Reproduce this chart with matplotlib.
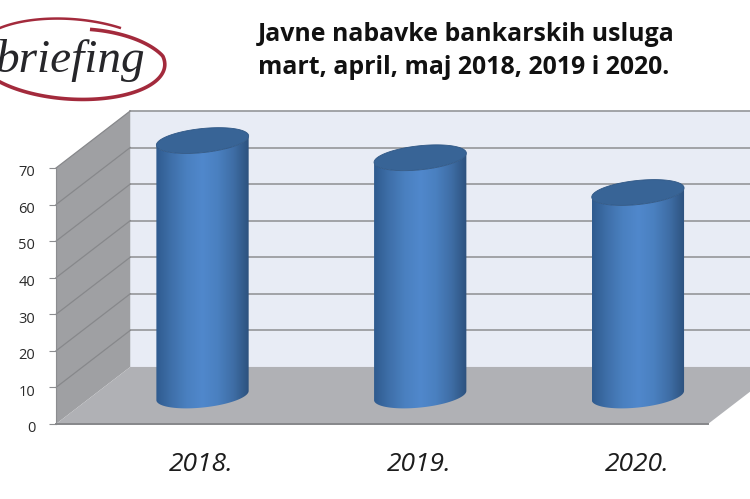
import numpy as np
import matplotlib
matplotlib.use('Agg')
import matplotlib.pyplot as plt
from matplotlib.colors import LinearSegmentedColormap
from matplotlib.patches import Polygon, PathPatch
from matplotlib.path import Path
from matplotlib.transforms import ScaledTranslation

# data
years = ['2018.', '2019.', '2020.']
values = [69.7, 65, 55.5]
y_ticks = [0, 10, 20, 30, 40, 50, 60, 70]
title_lines = ['Javne nabavke bankarskih usluga', 'mart, april, maj 2018, 2019 i 2020.']

# 3d look, in data units
DEPTH_X = 0.341
DEPTH_Y = 15.6
XMIN, XMAX = -0.668, 2.327
YMAX = 70
HALF_W = 0.212
ELL_H = 3.3
ELL_TILT = 1.25

fig = plt.figure(figsize=(7.5, 4.99), dpi=100)
ax = fig.add_axes([56 / 750, 75 / 499, 652 / 750, 256 / 499])
ax.set_xlim(XMIN, XMAX)
ax.set_ylim(0, YMAX)
ax.patch.set_visible(False)

# back wall, side wall and floor
ax.add_patch(Polygon([[XMIN + DEPTH_X, DEPTH_Y], [XMAX + DEPTH_X, DEPTH_Y],
                      [XMAX + DEPTH_X, YMAX + DEPTH_Y], [XMIN + DEPTH_X, YMAX + DEPTH_Y]],
                     fc='#e8ecf5', ec='none', clip_on=False, zorder=1))
ax.add_patch(Polygon([[XMIN, 0], [XMIN + DEPTH_X, DEPTH_Y],
                      [XMIN + DEPTH_X, YMAX + DEPTH_Y], [XMIN, YMAX]],
                     fc='#9fa0a3', ec='none', clip_on=False, zorder=1))
ax.add_patch(Polygon([[XMIN, 0], [XMAX, 0], [XMAX + DEPTH_X, DEPTH_Y], [XMIN + DEPTH_X, DEPTH_Y]],
                     fc='#b0b1b5', ec='none', clip_on=False, zorder=2))

for tick in y_ticks[1:]:
    ax.plot([XMIN + DEPTH_X, XMAX + DEPTH_X], [tick + DEPTH_Y, tick + DEPTH_Y], color='#9b9da0',
            lw=1.3, clip_on=False, zorder=1.5)
    ax.plot([XMIN, XMIN + DEPTH_X], [tick, tick + DEPTH_Y], color='#87888b', lw=0.9,
            clip_on=False, zorder=1.5)

# cylinders
body_cmap = LinearSegmentedColormap.from_list(
    'body', ['#2f5b8f', '#3f70aa', '#4a80c0', '#5088cc', '#4a80c0', '#3f6ea6', '#2d527e'])
t = np.linspace(0, 2 * np.pi, 120)
low = t[t >= np.pi]
for i, v in enumerate(values):
    cx = i + 0.005
    base = DEPTH_Y / 2
    top = base + v
    ex = cx + HALF_W * np.cos(t)
    ey = ELL_H * np.sin(t) + ELL_TILT * np.cos(t)

    # side = lower half of the bottom ellipse joined to lower half of the top one
    lx = cx + HALF_W * np.cos(low)
    ly = ELL_H * np.sin(low) + ELL_TILT * np.cos(low)
    verts = np.vstack([np.column_stack([lx, ly + base]),
                       np.column_stack([lx[::-1], ly[::-1] + top])])
    verts = np.vstack([verts, verts[0]])
    codes = [Path.MOVETO] + [Path.LINETO] * (len(verts) - 2) + [Path.CLOSEPOLY]
    clip = PathPatch(Path(verts, codes), fc='none', ec='none', transform=ax.transData)
    ax.add_patch(clip)
    clip.set_clip_on(False)
    im = ax.imshow(np.linspace(0, 1, 200).reshape(1, -1), cmap=body_cmap, aspect='auto',
                   extent=[cx - HALF_W, cx + HALF_W, base - ELL_H - 2, top + ELL_H + 2],
                   zorder=3)
    im.set_clip_box(fig.bbox)
    im.set_clip_path(clip)
    ax.fill(ex, ey + top, color='#386496', ec='#2f5785', lw=0.6, clip_on=False, zorder=4)

ax.set_xlim(XMIN, XMAX)
ax.set_ylim(0, YMAX)

for side in ['top', 'right']:
    ax.spines[side].set_visible(False)
ax.spines['left'].set_color('#8c8d90')
ax.spines['bottom'].set_color('#86878a')
ax.spines['bottom'].set_linewidth(1.4)
ax.spines['left'].set_zorder(6)
ax.spines['bottom'].set_zorder(6)

ax.set_yticks(y_ticks)
ax.tick_params(axis='y', length=5, color='#8c8d90', pad=10, labelsize=10.5, labelcolor='#2a2a2a')
ax.set_xticks(range(len(years)))
ax.set_xticklabels(years, fontsize=19, fontstyle='italic', color='#1c1c1c')
ax.tick_params(axis='x', length=0, pad=20)
nudge = ScaledTranslation(0, -2 / 72, fig.dpi_scale_trans)
for lab in ax.get_yticklabels():
    lab.set_family('Open Sans')
    lab.set_transform(lab.get_transform() + nudge)
for lab in ax.get_xticklabels():
    lab.set_family('Open Sans')

# title + logo in pixel coordinates
over = fig.add_axes([0, 0, 1, 1])
over.set_xlim(0, 750)
over.set_ylim(499, 0)
over.axis('off')
over.patch.set_visible(False)
for line, y in zip(title_lines, [34, 67]):
    over.text(258, y, line, fontsize=17.9, fontweight='bold', family='Open Sans',
              color='#111111', va='center', ha='left')

over.text(-5, 72, 'briefing', fontsize=34, fontstyle='italic', family='Liberation Serif',
          color='#26262a', va='baseline', ha='left')


def logo_arc(start, end, r0, r1):
    th = np.radians(np.linspace(start, end, 120))
    r = np.interp(np.linspace(0, 1, 120), [0, 0.25, 1], [r0, r1, r1])
    px, py = 95 * np.cos(th), 40 * np.sin(th)
    phi = np.radians(4)
    return (70 + r * (px * np.cos(phi) - py * np.sin(phi)),
            59 + r * (px * np.sin(phi) + py * np.cos(phi)))


over.plot(*logo_arc(-60, -190, 1, 1), color='#a32a3c', lw=1.8)
over.plot(*logo_arc(-75, 170, 0.8, 1), color='#a32a3c', lw=2.6)

fig.savefig('out.png', dpi=100)
